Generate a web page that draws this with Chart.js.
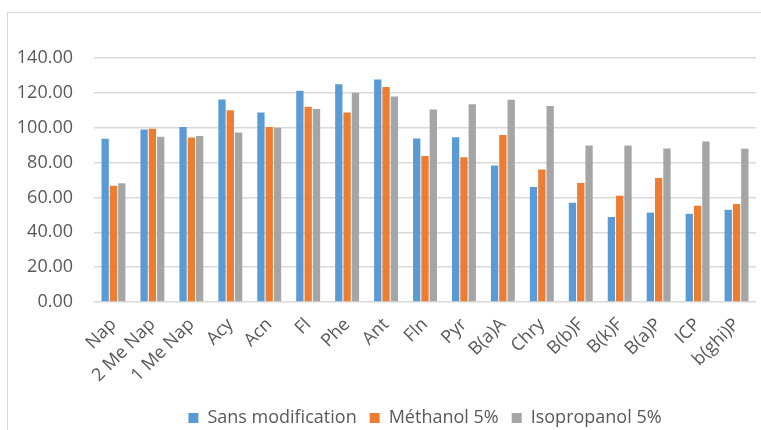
<!DOCTYPE html>
<html>
<head>
<meta charset="utf-8">
<script src="https://cdn.jsdelivr.net/npm/chart.js@4.4.1/dist/chart.umd.min.js"></script>
<style>
  body { margin: 0; background: #fff; overflow: hidden; }
  #frame {
    position: absolute; left: 7px; top: 12px;
    width: 754px; height: 424px;
    border-left: 1px solid #d9d9d9; border-top: 1px solid #d9d9d9;
  }
  #wrap { position: absolute; left: 1px; top: 1px; width: 753px; height: 423px; }
</style>
</head>
<body>
<div id="frame"><div id="wrap"><canvas id="myChart"></canvas></div></div>
<script>
var labels = ['Nap', '2 Me Nap', '1 Me Nap', 'Acy', 'Acn', 'Fl', 'Phe', 'Ant', 'Fln', 'Pyr',
              'B(a)A', 'Chry', 'B(b)F', 'B(k)F', 'B(a)P', 'ICP', 'b(ghi)P'];
var sansModif = [93.7, 99.0, 100.4, 116.2, 108.7, 121.2, 125.0, 127.7, 93.8, 94.6,
                 78.3, 66.0, 56.9, 48.8, 51.3, 50.6, 52.9];
var methanol = [66.7, 99.4, 94.4, 110.0, 100.4, 112.1, 108.7, 123.3, 83.7, 83.1,
                95.8, 76.0, 68.3, 61.0, 71.2, 55.2, 56.3];
var isopropanol = [68.1, 94.8, 95.2, 97.3, 100.0, 110.8, 120.0, 117.9, 110.4, 113.5,
                   116.0, 112.5, 89.8, 89.8, 88.1, 92.1, 87.9];

Chart.defaults.font.family = "'Open Sans', 'Liberation Sans', sans-serif";
Chart.defaults.font.size = 18;
Chart.defaults.color = '#595959';

var ctx = document.getElementById('myChart');

var myChart = new Chart(ctx, {
    type: 'bar',
    data: {
        labels: labels,
        datasets: [
            { label: 'Sans modification', data: sansModif, backgroundColor: '#5B9BD5' },
            { label: 'Méthanol 5%', data: methanol, backgroundColor: '#ED7D31' },
            { label: 'Isopropanol 5%', data: isopropanol, backgroundColor: '#A5A5A5' }
        ]
    },
    options: {
        responsive: true,
        maintainAspectRatio: false,
        animation: false,
        categoryPercentage: 0.64,
        barPercentage: 0.88,
        layout: { padding: { top: 44, right: 6, bottom: 0, left: 0 } },
        plugins: {
            tooltip: { enabled: false },
            legend: {
                position: 'bottom',
                fullSize: false,
                labels: { boxWidth: 10, boxHeight: 10, padding: 13 }
            }
        },
        scales: {
            x: {
                grid: { display: false },
                border: { display: false },
                ticks: { autoSkip: false, minRotation: 45, maxRotation: 45, padding: 4 },
                afterFit: function (scale) { scale.height = 94; }
            },
            y: {
                min: 0,
                max: 140,
                grid: { color: '#d9d9d9', lineWidth: 1.5, drawTicks: false },
                border: { display: false },
                ticks: {
                    stepSize: 20,
                    padding: 21,
                    callback: function (v) { return v.toFixed(2); }
                },
                afterFit: function (scale) { scale.width = 85; }
            }
        }
    }
});
</script>
</body>
</html>
